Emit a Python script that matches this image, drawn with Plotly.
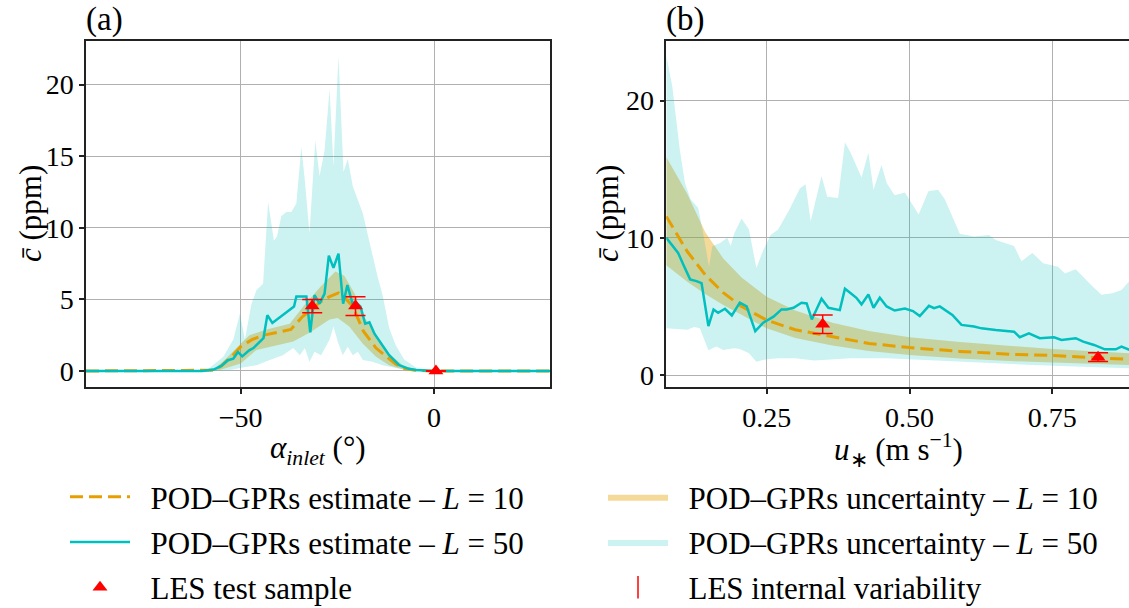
import plotly.graph_objects as go

# ---------------- data: panel (a) ----------------
a_alpha_L10 = [-90, -60, -57, -55, -52, -50, -47, -44, -40, -37, -34, -32, -29.5, -27, -24.7, -23, -21, -18.3, -15, -12, -10, -8, -5, -2, 0, 30]
a_c_L10 = [0, 0, 0.05, 0.35, 1.1, 1.7, 2.2, 2.5, 2.7, 2.9, 3.8, 4.2, 4.8, 5.2, 5.45, 5.1, 4.5, 2.8, 1.6, 0.9, 0.5, 0.2, 0.05, 0.01, 0, 0]

a_alpha_L10_up = [-90, -60, -57, -54, -50, -47.7, -43.3, -38.5, -37.3, -33.5, -29.3, -25.5, -23.2, -20.5, -18.4, -15.3, -11.6, -8.1, -5, -2, 30]
a_c_L10_up = [0, 0, 0.1, 0.8, 1.9, 2.5, 2.9, 3.2, 3.3, 4.6, 5.9, 6.95, 6.65, 5.4, 3.9, 2.7, 1.2, 0.4, 0.1, 0.02, 0]
a_alpha_L10_lo = [-90, -57, -55, -50, -45.9, -40.7, -36.4, -32, -27, -24.9, -21.9, -18.4, -15, -11.6, -8, -5, 30]
a_c_L10_lo = [0, 0, 0.1, 0.53, 1.47, 1.8, 2.05, 2.7, 3.6, 3.7, 3.1, 1.9, 1.0, 0.4, 0.1, 0.02, 0]

a_alpha_L50 = [-90, -60, -57, -55, -53.3, -51.9, -50.7, -49.6, -47.8, -46.7, -44.1, -43.1, -41.8, -39.5, -38.5, -37.1, -36.2, -35.6, -33, -32, -30.9, -29.6, -28.3, -27.2, -26, -24.7, -23.5, -22.4, -21.1, -20.2, -19, -17.8, -16.7, -15.4, -13.7, -11.6, -9, -6.5, -4.7, -2, 0, 30]
a_c_L50 = [0, 0, 0.1, 0.35, 0.75, 0.86, 1.33, 1.02, 1.44, 1.6, 2.3, 3.9, 3.35, 3.8, 4.0, 4.3, 4.5, 5.2, 5.2, 2.7, 5.3, 4.7, 5.4, 8.05, 7.2, 8.2, 4.7, 6.0, 4.75, 4.8, 4.5, 3.3, 3.4, 2.6, 1.9, 1.1, 0.4, 0.15, 0.07, 0.02, 0, 0]

a_alpha_L50_up = [-90, -62, -58.7, -54.5, -51.9, -50.2, -48.9, -47.2, -45.9, -44.2, -42.9, -41.4, -40.6, -39.5, -38.2, -36.9, -35.6, -34.3, -33.4, -32.2, -30.7, -29.6, -28.3, -27, -26, -24.7, -23.4, -22.3, -21, -19.7, -18.4, -17.2, -15.9, -14.6, -13.3, -11.6, -9.9, -7.7, -4.7, -1.3, 30]
a_c_L50_up = [0, 0, 0.07, 1.0, 2.2, 4.0, 2.2, 4.7, 5.65, 6.1, 11.8, 9.1, 9.4, 10.8, 11.1, 11.1, 11.7, 15.65, 13.3, 9.6, 16.1, 13.6, 15.4, 19.7, 14.3, 22.0, 13.9, 14.8, 12.9, 11.9, 11.0, 9.6, 8.0, 6.6, 5.3, 3.0, 1.8, 0.8, 0.25, 0.0, 0]
a_alpha_L50_lo = [-90, -57, -52.7, -50.2, -45.9, -42.5, -39.1, -36.4, -34.7, -33.4, -32.2, -30.9, -29.2, -27, -26, -24.9, -23.6, -22.3, -21, -19.7, -18.4, -15.9, -13.3, -9.9, -4.7, 30]
a_c_L50_lo = [0, 0, 0.07, 0.2, 0.4, 0.77, 1.1, 1.6, 1.1, 1.6, 0.65, 1.35, 1.1, 2.2, 3.1, 2.05, 1.1, 1.7, 1.1, 1.35, 0.77, 0.65, 0.4, 0.2, 0, 0]

a_les_alpha = [-31.5, -20.3, 0.5]
a_les_c = [4.53, 4.53, 0.0]
a_les_err = [0.47, 0.65, 0.02]

# ---------------- data: panel (b) ----------------
b_u_L10 = [0.0743, 0.111, 0.1425, 0.174, 0.206, 0.25, 0.30, 0.365, 0.429, 0.5, 0.588, 0.683, 0.75, 0.83, 0.886]
b_c_L10 = [11.56, 9.0, 7.3, 6.0, 5.0, 4.0, 3.3, 2.8, 2.3, 2.0, 1.72, 1.5, 1.42, 1.25, 1.14]
b_c_L10_up = [15.9, 13.2, 10.4, 8.5, 7.1, 5.7, 4.7, 3.8, 3.2, 2.75, 2.4, 2.1, 1.9, 1.72, 1.58]
b_c_L10_lo = [8.0, 6.8, 5.9, 5.1, 4.4, 3.4, 2.7, 2.15, 1.75, 1.45, 1.2, 1.0, 0.9, 0.8, 0.73]

b_u_L50 = [0.0743, 0.087, 0.095, 0.104, 0.116, 0.127, 0.136, 0.148, 0.157, 0.165, 0.177, 0.189, 0.203, 0.215, 0.23, 0.244, 0.262, 0.276, 0.285, 0.297, 0.311, 0.320, 0.329, 0.346, 0.358, 0.378, 0.387, 0.396, 0.407, 0.416, 0.428, 0.437, 0.448, 0.460, 0.474, 0.492, 0.506, 0.518, 0.534, 0.543, 0.553, 0.575, 0.591, 0.613, 0.626, 0.651, 0.683, 0.693, 0.709, 0.728, 0.753, 0.766, 0.791, 0.804, 0.823, 0.842, 0.861, 0.871, 0.886]
b_c_L50 = [10.0, 9.27, 8.9, 8.06, 6.97, 6.84, 6.7, 3.57, 4.78, 4.54, 4.83, 4.34, 5.27, 5.0, 3.2, 3.81, 4.25, 4.78, 4.78, 4.9, 5.27, 5.22, 4.05, 5.56, 4.9, 4.73, 6.29, 6.0, 5.63, 5.15, 5.87, 4.9, 5.63, 5.0, 4.7, 4.85, 4.66, 4.3, 5.04, 4.87, 5.0, 4.38, 3.65, 3.53, 3.4, 3.28, 3.16, 2.75, 3.04, 2.68, 2.75, 2.55, 2.68, 2.43, 2.19, 1.87, 1.87, 2.07, 1.82]

b_u_L50_up = [0.0743, 0.085, 0.098, 0.107, 0.117, 0.13, 0.139, 0.149, 0.155, 0.168, 0.181, 0.187, 0.193, 0.206, 0.219, 0.232, 0.244, 0.257, 0.270, 0.289, 0.308, 0.318, 0.327, 0.346, 0.356, 0.375, 0.387, 0.397, 0.416, 0.428, 0.437, 0.451, 0.460, 0.474, 0.492, 0.516, 0.533, 0.550, 0.562, 0.588, 0.613, 0.639, 0.651, 0.683, 0.696, 0.715, 0.734, 0.760, 0.772, 0.791, 0.817, 0.836, 0.855, 0.871, 0.886]
b_c_L50_up = [23.3, 21.0, 16.4, 14.0, 12.8, 12.2, 10.3, 7.9, 9.4, 9.6, 10.0, 9.4, 10.3, 11.4, 10.6, 7.8, 9.1, 10.2, 10.6, 12.0, 13.6, 13.9, 11.2, 14.5, 13.0, 12.9, 16.97, 16.2, 14.4, 16.2, 13.5, 15.3, 14.0, 13.1, 13.3, 11.7, 13.4, 13.5, 12.8, 10.3, 10.1, 10.2, 9.85, 9.4, 8.3, 8.9, 8.15, 7.9, 7.4, 7.7, 6.6, 5.85, 5.96, 6.2, 6.9]
b_u_L50_lo = [0.0743, 0.111, 0.123, 0.133, 0.148, 0.162, 0.174, 0.193, 0.203, 0.219, 0.232, 0.25, 0.27, 0.30, 0.333, 0.365, 0.397, 0.461, 0.524, 0.588, 0.651, 0.715, 0.779, 0.842, 0.886]
b_c_L50_lo = [3.4, 3.3, 3.5, 3.4, 1.8, 2.07, 1.82, 1.95, 1.9, 1.58, 0.97, 1.15, 1.22, 1.22, 1.05, 1.14, 1.22, 1.22, 1.14, 0.97, 0.85, 0.73, 0.61, 0.54, 0.49]

b_les_u = [0.348, 0.830]
b_les_c = [3.7, 1.3]
b_les_err = [0.68, 0.32]

# ---------------- labels ----------------
PAD = "\u00a0\u00a0"
LBL_EST10 = "POD–GPRs estimate – <i>L</i> = 10"
LBL_EST50 = "POD–GPRs estimate – <i>L</i> = 50"
LBL_UNC10 = "POD–GPRs uncertainty – <i>L</i> = 10"
LBL_UNC50 = "POD–GPRs uncertainty – <i>L</i> = 50"
LBL_LES = "LES test sample"
LBL_VAR = "LES internal variability"

# ---------------- styles ----------------
FONT = "Liberation Serif"
ORANGE = "#E69F00"
ORANGE_FILL = "rgba(230,159,0,0.4)"
CYAN = "#00BFBF"
CYAN_FILL = "rgba(0,191,191,0.2)"
RED = "#FF0000"
W, H = 1129, 608


def poly(xu, yu, xl, yl):
    return list(xu) + list(xl)[::-1], list(yu) + list(yl)[::-1]


fig = go.Figure()

panels = [
    dict(xa="x", ya="y", show=True,
         l10=(a_alpha_L10, a_c_L10), l10band=poly(a_alpha_L10_up, a_c_L10_up, a_alpha_L10_lo, a_c_L10_lo),
         l50=(a_alpha_L50, a_c_L50), l50band=poly(a_alpha_L50_up, a_c_L50_up, a_alpha_L50_lo, a_c_L50_lo),
         les=(a_les_alpha, a_les_c, a_les_err)),
    dict(xa="x2", ya="y2", show=False,
         l10=(b_u_L10, b_c_L10), l10band=poly(b_u_L10, b_c_L10_up, b_u_L10, b_c_L10_lo),
         l50=(b_u_L50, b_c_L50), l50band=poly(b_u_L50_up, b_c_L50_up, b_u_L50_lo, b_c_L50_lo),
         les=(b_les_u, b_les_c, b_les_err)),
]

for p in panels:
    fig.add_trace(go.Scatter(x=p["l10band"][0], y=p["l10band"][1], xaxis=p["xa"], yaxis=p["ya"],
                             mode="lines", fill="toself", fillcolor=ORANGE_FILL, line=dict(width=0),
                             name=PAD + LBL_UNC10, legend="legend2", legendgroup="g4", showlegend=p["show"],
                             hoverinfo="skip"))
    fig.add_trace(go.Scatter(x=p["l50band"][0], y=p["l50band"][1], xaxis=p["xa"], yaxis=p["ya"],
                             mode="lines", fill="toself", fillcolor=CYAN_FILL, line=dict(width=0),
                             name=PAD + LBL_UNC50, legend="legend2", legendgroup="g5", showlegend=p["show"],
                             hoverinfo="skip"))
    fig.add_trace(go.Scatter(x=p["l10"][0], y=p["l10"][1], xaxis=p["xa"], yaxis=p["ya"],
                             mode="lines", line=dict(color=ORANGE, width=3, dash="13px,6px"),
                             name=PAD + LBL_EST10, legend="legend", legendgroup="g1", showlegend=p["show"]))
    fig.add_trace(go.Scatter(x=p["l50"][0], y=p["l50"][1], xaxis=p["xa"], yaxis=p["ya"],
                             mode="lines", line=dict(color=CYAN, width=2.5),
                             name=PAD + LBL_EST50, legend="legend", legendgroup="g2", showlegend=p["show"]))
    fig.add_trace(go.Scatter(x=p["les"][0], y=p["les"][1], xaxis=p["xa"], yaxis=p["ya"],
                             mode="markers", marker=dict(symbol="triangle-up", size=13, color=RED),
                             error_y=dict(type="data", array=p["les"][2], color=RED, thickness=1.5, width=10),
                             name=PAD + LBL_LES, legend="legend", legendgroup="g3", showlegend=p["show"]))

# legend-only entry for the error bar glyph
fig.add_trace(go.Scatter(x=[None], y=[None], mode="markers",
                         marker=dict(symbol="line-ns-open", size=30, color=RED, line=dict(color=RED, width=1.5)),
                         name=PAD + LBL_VAR, legend="legend2", legendgroup="g6", showlegend=True))

axis_common = dict(showgrid=True, gridcolor="#b0b0b0", gridwidth=1.2, zeroline=False,
                   showline=True, linecolor="#222222", linewidth=1.5,
                   ticks="outside", ticklen=5, tickwidth=1.5, tickcolor="#222222",
                   tickfont=dict(family=FONT, size=28, color="#000000"))

LEG_FONT = dict(family=FONT, size=31, color="#000000")

fig.update_layout(
    width=W, height=H, margin=dict(l=0, r=0, t=0, b=0, autoexpand=False),
    paper_bgcolor="white", plot_bgcolor="white",
    font=dict(family=FONT, size=28, color="#000000"),
    xaxis=dict(domain=[86 / W, 550 / W], range=[-90, 30], tickvals=[-50, 0], mirror=True, **axis_common),
    yaxis=dict(domain=[1 - 387 / H, 1 - 40.7 / H], range=[-1.12, 23.07], tickvals=[0, 5, 10, 15, 20],
               mirror=True, **axis_common),
    xaxis2=dict(domain=[666.3 / W, 1.0], range=[0.0743, 0.8842], tickvals=[0.25, 0.5, 0.75],
                tickformat=".2f", mirror=True, anchor="y2", **axis_common),
    yaxis2=dict(domain=[1 - 387 / H, 1 - 40.7 / H], range=[-0.875, 24.37], tickvals=[0, 10, 20],
                mirror=False, anchor="x2", **axis_common),
    showlegend=True,
    legend=dict(x=65 / W, y=1 - 470 / H, xanchor="left", yanchor="top", orientation="v",
                traceorder="grouped", tracegroupgap=2, bgcolor="rgba(0,0,0,0)",
                font=LEG_FONT, itemwidth=60),
    legend2=dict(x=603 / W, y=1 - 470 / H, xanchor="left", yanchor="top", orientation="v",
                 traceorder="grouped", tracegroupgap=2, bgcolor="rgba(0,0,0,0)",
                 font=LEG_FONT, itemwidth=60),
)

ann_font = dict(family=FONT, size=31, color="#000000")
annotations = [
    dict(text="(a)", x=84 / W, y=1 - 40 / H, xref="paper", yref="paper", xanchor="left", yanchor="bottom",
         showarrow=False, font=dict(family=FONT, size=33, color="#000000")),
    dict(text="(b)", x=664 / W, y=1 - 40 / H, xref="paper", yref="paper", xanchor="left", yanchor="bottom",
         showarrow=False, font=dict(family=FONT, size=33, color="#000000")),
    dict(text="<i>α</i><sub><i>inlet</i></sub> (°)", x=318 / W, y=1 - 450 / H, xref="paper", yref="paper",
         xanchor="center", yanchor="middle", showarrow=False, font=ann_font),
    dict(text="<i>u</i><sub>∗</sub> (m s<sup>−1</sup>)", x=898 / W, y=1 - 450 / H, xref="paper", yref="paper",
         xanchor="center", yanchor="middle", showarrow=False, font=ann_font),
    dict(text="<i>c\u0304</i> (ppm)", x=30 / W, y=1 - 214 / H, xref="paper", yref="paper", textangle=-90,
         xanchor="center", yanchor="middle", showarrow=False, font=ann_font),
    dict(text="<i>c\u0304</i> (ppm)", x=607 / W, y=1 - 214 / H, xref="paper", yref="paper", textangle=-90,
         xanchor="center", yanchor="middle", showarrow=False, font=ann_font),
]
fig.update_layout(annotations=annotations)

fig.write_html("out.html", config={"displayModeBar": False},
               post_script="document.body.style.margin='0px';document.body.style.overflow='hidden';")
